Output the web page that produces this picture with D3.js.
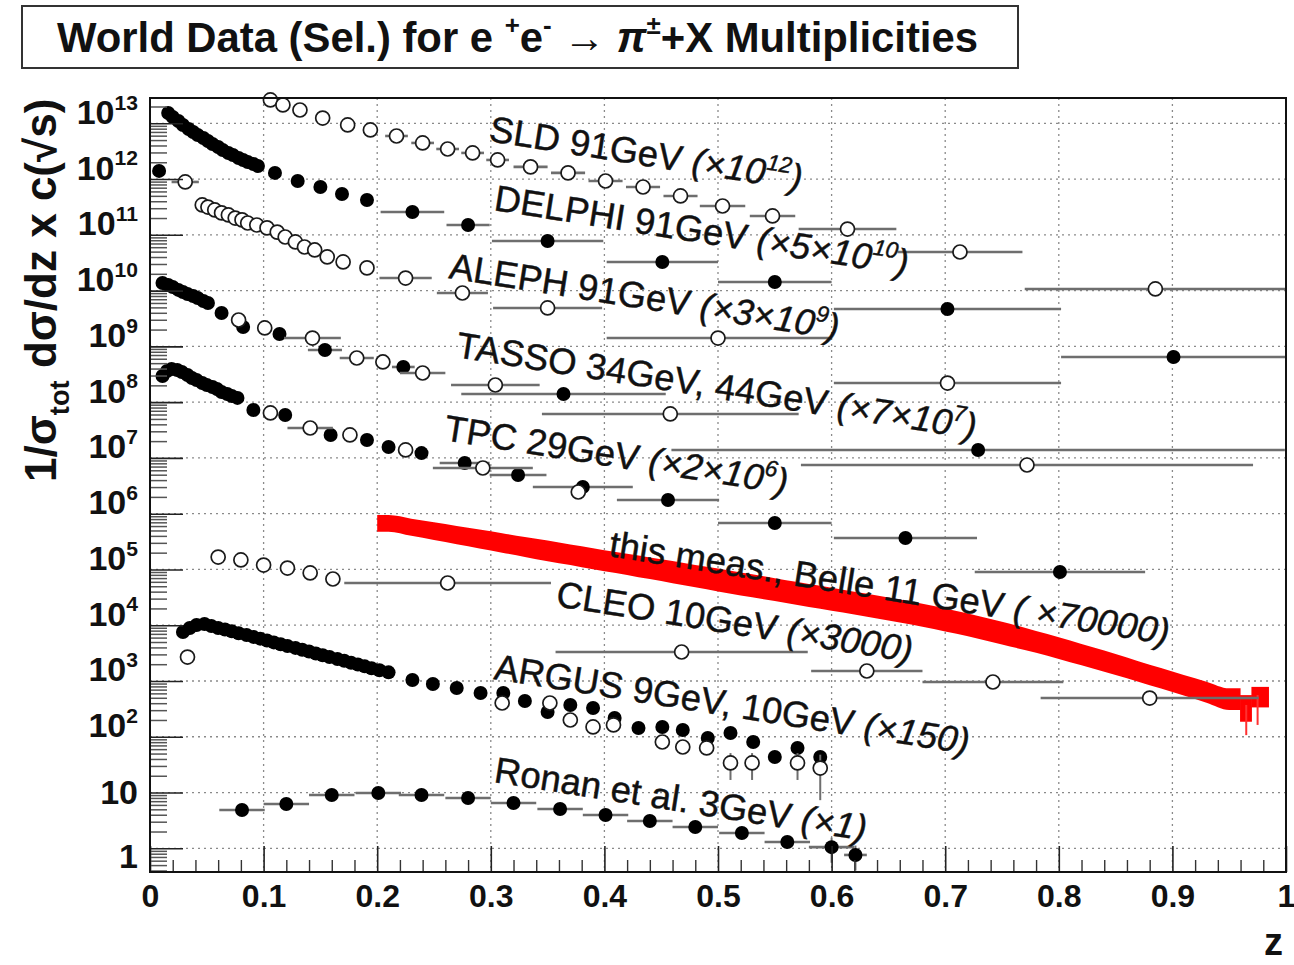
<!DOCTYPE html>
<html>
<head>
<meta charset="utf-8">
<script src="https://cdn.jsdelivr.net/npm/d3@7"></script>
<style>
  html, body { margin: 0; padding: 0; background: #fff; }
  svg { display: block; font-family: "Liberation Sans", Arial, Helvetica, sans-serif; }
</style>
</head>
<body>
<svg id="chart" width="1294" height="965"></svg>
<script>
// ---------------------------------------------------------------
// pi+- multiplicities, 1/sigma dsigma/dz, each set already scaled by
// the factor quoted in its label.
// ---------------------------------------------------------------

// SLD 91 GeV (x1e12), open markers
const sldZ    = [0.106,0.117,0.132,0.152,0.174,0.194,0.217,0.240,0.262,0.284,0.306,0.335,0.368,0.401,0.434,0.467,0.504,0.548,0.614,0.713,0.885];
const sldVal  = [2.62e13,2.13e13,1.73e13,1.24e13,9.33e12,7.59e12,5.92e12,4.44e12,3.46e12,2.94e12,2.20e12,1.65e12,1.29e12,9.23e11,7.21e11,4.98e11,3.29e11,2.18e11,1.27e11,4.92e10,1.07e10];
const sldXerr = [0,0,0,0,0,0,0.01,0.01,0.01,0.01,0.01,0.015,0.015,0.015,0.015,0.015,0.02,0.02,0.043,0.055,0.115];

// DELPHI 91 GeV (x5e10), filled markers
const delphiZ    = [0.016,0.020,0.025,0.029,0.034,0.038,0.042,0.047,0.051,0.055,0.060,0.064,0.069,0.073,0.078,0.082,0.086,0.091,0.095,0.110,0.130,0.150,0.169,0.191,0.231,0.280,0.350,0.451,0.550,0.702,0.901];
const delphiVal  = [1.53e13,1.30e13,1.10e13,9.33e12,7.91e12,6.98e12,6.17e12,5.45e12,4.82e12,4.26e12,3.76e12,3.32e12,2.94e12,2.70e12,2.39e12,2.20e12,2.02e12,1.86e12,1.71e12,1.29e12,9.23e11,7.21e11,5.40e11,4.22e11,2.57e11,1.50e11,7.76e10,3.26e10,1.43e10,4.68e9,6.46e8];
const delphiXerr = [0,0,0,0,0,0,0,0,0,0,0,0,0,0,0,0,0,0,0,0,0,0,0,0,0.028,0.019,0.049,0.049,0.05,0.1,0.099];

// ALEPH 91 GeV (x3e9), open markers, plus the lowest-z filled point
const alephZ    = [0.031,0.046,0.051,0.057,0.063,0.069,0.075,0.081,0.086,0.094,0.103,0.112,0.119,0.128,0.136,0.145,0.156,0.170,0.191,0.225,0.275,0.350,0.500,0.702];
const alephVal  = [8.87e11,3.43e11,3.15e11,2.79e11,2.47e11,2.27e11,2.00e11,1.85e11,1.63e11,1.50e11,1.33e11,1.12e11,9.14e10,7.45e10,6.05e10,5.35e10,4.01e10,3.26e10,2.55e10,1.68e10,9.06e9,4.88e9,1.41e9,2.20e8];
const alephXerr = [0.012,0,0,0,0,0,0,0,0,0,0,0,0,0,0,0,0,0,0,0.023,0.0225,0.048,0.098,0.1];
const alephSoftZ   = [0.008];
const alephSoftVal = [1.40e12];

// TASSO 34 GeV (filled) and 44 GeV (open), x7e7
const tasso34Z    = [0.011,0.016,0.020,0.025,0.029,0.033,0.038,0.042,0.047,0.051,0.063,0.082,0.114,0.154,0.223,0.364,0.729];
const tasso34Val  = [1.37e10,1.26e10,1.16e10,1.03e10,9.44e9,8.69e9,8.00e9,7.38e9,6.52e9,6.00e9,3.97e9,2.23e9,1.67e9,8.61e8,4.27e8,1.40e8,1.39e7];
const tasso34Xerr = [0,0,0,0,0,0,0,0,0,0,0,0,0,0.015,0.01,0.09,0.27];
const tasso44Z    = [0.078,0.101,0.143,0.182,0.205,0.240,0.304,0.458,0.772];
const tasso44Val  = [2.97e9,2.14e9,1.41e9,6.19e8,5.25e8,3.33e8,2.03e8,6.14e7,7.46e6];
const tasso44Xerr = [0,0,0.025,0.015,0,0.02,0.039,0.113,0.199];

// TPC 29 GeV (x2e6), filled and open markers
const tpcZ    = [0.011,0.015,0.019,0.024,0.028,0.033,0.037,0.041,0.046,0.050,0.055,0.059,0.063,0.068,0.072,0.077,0.091,0.119,0.159,0.191,0.210,0.239,0.277,0.324,0.381,0.456,0.550,0.665,0.801];
const tpcVal  = [2.94e8,3.62e8,3.93e8,3.78e8,3.48e8,3.07e8,2.71e8,2.49e8,2.20e8,2.03e8,1.87e8,1.72e8,1.52e8,1.40e8,1.29e8,1.19e8,7.23e7,5.89e7,2.58e7,2.09e7,1.57e7,1.22e7,8.11e6,4.94e6,3.01e6,1.76e6,6.81e5,3.66e5,9.02e4];
const tpcXerr = [0,0,0,0,0,0,0,0,0,0,0,0,0,0,0,0,0,0,0,0,0,0,0.022,0.025,0.044,0.045,0.05,0.063,0.075];
const tpcOpenZ    = [0.106,0.141,0.176,0.225,0.293,0.377];
const tpcOpenVal  = [6.40e7,3.44e7,2.58e7,1.39e7,6.59e6,2.45e6];
const tpcOpenXerr = [0,0.02,0,0,0.044,0];

// Belle 11 GeV, this measurement (x70000): bins with relative uncertainty
const belleEdges  = [0.20,0.22,0.24,0.26,0.28,0.30,0.32,0.34,0.36,0.38,0.40,0.42,0.44,0.46,0.48,0.50,0.52,0.54,0.56,0.58,0.60,0.62,0.64,0.66,0.68,0.70,0.72,0.74,0.76,0.78,0.80,0.82,0.84,0.86,0.88,0.90,0.92,0.94,0.96,0.97,0.985];
const belleVal    = [7.11e5,6.07e5,5.19e5,4.43e5,3.78e5,3.23e5,2.75e5,2.35e5,2.01e5,1.71e5,1.46e5,1.25e5,1.07e5,9.11e4,7.78e4,6.64e4,5.67e4,4.84e4,4.13e4,3.53e4,3.01e4,2.57e4,2.18e4,1.84e4,1.53e4,1.25e4,1.01e4,8.04e3,6.31e3,4.88e3,3.75e3,2.85e3,2.16e3,1.62e3,1.22e3,914,690,521,372,560];
const belleRelErr = [0.33,0.34,0.35,0.36,0.37,0.38,0.39,0.40,0.40,0.41,0.41,0.42,0.42,0.43,0.43,0.44,0.44,0.44,0.44,0.44,0.44,0.44,0.44,0.44,0.44,0.44,0.44,0.44,0.43,0.42,0.42,0.41,0.41,0.40,0.40,0.40,0.41,0.42,0.50,0.40];
const belleTailZ  = [0.965,0.975];
const belleTailLo = [107,163];

// CLEO 10 GeV (x3000), open markers
const cleoZ    = [0.060,0.080,0.100,0.121,0.141,0.161,0.262,0.468,0.631,0.742,0.880];
const cleoVal  = [1.67e5,1.48e5,1.20e5,1.06e5,8.65e4,6.74e4,5.71e4,3.31e3,1.51e3,959,495];
const cleoXerr = [0,0,0,0,0,0,0.091,0.111,0.049,0.062,0.096];

// ARGUS 9 GeV, 10 GeV (x150), filled and open markers
const argusZ   = [0.029,0.035,0.041,0.048,0.054,0.060,0.066,0.072,0.078,0.085,0.091,0.097,0.103,0.109,0.115,0.121,0.128,0.134,0.140,0.146,0.152,0.158,0.165,0.171,0.177,0.183,0.189,0.195,0.202,0.210,0.231,0.249,0.270,0.291,0.311,0.330,0.350,0.370,0.390,0.409,0.430,0.451,0.469,0.491,0.511,0.531,0.550,0.570,0.590];
const argusVal = [7.57e3,8.91e3,1.01e4,1.05e4,9.68e3,8.91e3,8.39e3,7.76e3,7.19e3,6.68e3,6.18e3,5.74e3,5.31e3,4.92e3,4.55e3,4.23e3,3.92e3,3.63e3,3.37e3,3.11e3,2.89e3,2.69e3,2.48e3,2.30e3,2.13e3,1.98e3,1.83e3,1.69e3,1.56e3,1.43e3,1.04e3,883,748,609,609,438,278,372,328,217,144,150,132,95.1,117,80.5,43.4,63.0,43.4];
const argusOpenZ    = [0.033,0.310,0.352,0.370,0.390,0.408,0.451,0.469,0.490,0.511,0.530,0.570,0.590];
const argusOpenVal  = [2.69e3,403,403,200,150,163,80.5,65.6,63.0,33.9,33.9,33.9,27.5];
const argusOpenYerr = [0,0,0,0,0,0,0,0,0,17.1,17.1,17.1,20.2];

// Ronan et al. 3 GeV (x1), filled markers
const ronanZ    = [0.081,0.120,0.160,0.201,0.239,0.280,0.320,0.361,0.401,0.440,0.480,0.521,0.561,0.600,0.621];
const ronanVal  = [4.86,6.23,9.04,9.82,9.04,7.98,6.50,5.07,3.96,3.09,2.41,1.88,1.30,1.05,0.76];
const ronanXerr = [0.02,0.02,0.02,0.02,0.02,0.02,0.02,0.02,0.02,0.02,0.02,0.02,0.02,0.02,0.01];
const ronanYerr = [0,0,0,0,0,0,0,0,0,0,0,0,0,0.5,0.36];

// Text
const labelNames   = ["SLD 91GeV","DELPHI 91GeV","ALEPH 91GeV","TASSO 34GeV, 44GeV","TPC 29GeV","this meas., Belle 11 GeV","CLEO 10GeV","ARGUS 9GeV, 10GeV","Ronan et al. 3GeV"];
const labelFactors = ["×10^12","×5×10^10","×3×10^9","×7×10^7","×2×10^6"," ×70000","×3000","×150","×1"];
const xTicks = [0,0.1,0.2,0.3,0.4,0.5,0.6,0.7,0.8,0.9,1];
const yDecades = d3.range(0, 14).map(k => Math.pow(10, k));

// ---------------------------------------------------------------
// Layout
// ---------------------------------------------------------------
const P = { left: 150, right: 1286, top: 98, bottom: 872 };
const svg = d3.select("#chart");
const x = d3.scaleLinear().domain([0, 1]).range([P.left, P.right]);
const y = d3.scaleLog().domain([0.376, 2.84e13]).range([P.bottom, P.top]);

const labelPos = [[488,141],[493,210],[448,278],[455,357],[443,440],[608,556],[555,606],[493,679],[493,782]];
const labelAngle = 9;
const labelSize = 36.5;

// rich text helper: parts = [{t, sup, sub, it}]
function rich(textSel, parts, size) {
  let shift = 0;
  parts.forEach(p => {
    const target = p.sup ? -0.42 * size : (p.sub ? 0.3 * size : 0);
    const ts = textSel.append("tspan").text(p.t).attr("dy", (target - shift).toFixed(2));
    shift = target;
    if (p.sup || p.sub) ts.attr("font-size", (size * 0.62).toFixed(1));
    if (p.it) ts.attr("font-style", "italic");
  });
}

// ---------------------------------------------------------------
// Grid
// ---------------------------------------------------------------
const grid = svg.append("g").attr("stroke", "#8a8a8a").attr("stroke-width", 1.3).attr("stroke-dasharray", "2,4");
grid.selectAll("line.v").data(xTicks.slice(1, -1)).join("line")
  .attr("x1", d => x(d)).attr("x2", d => x(d)).attr("y1", P.top).attr("y2", P.bottom);
grid.selectAll("line.h").data(yDecades).join("line")
  .attr("x1", P.left).attr("x2", P.right).attr("y1", d => y(d)).attr("y2", d => y(d));

// ---------------------------------------------------------------
// Belle band: smooth uncertainty band through the bin centres,
// the two narrow end bins drawn as boxes
// ---------------------------------------------------------------
const nSmooth = 38;
const bandPts = [];
for (let i = 0; i < nSmooth; i++) {
  const zc = (belleEdges[i] + belleEdges[i + 1]) / 2;
  if (i === 0) bandPts.push({ z: belleEdges[0], v: belleVal[0], e: belleRelErr[0] });
  bandPts.push({ z: zc, v: belleVal[i], e: belleRelErr[i] });
  if (i === nSmooth - 1) bandPts.push({ z: belleEdges[i + 1], v: belleVal[i], e: belleRelErr[i] });
}
svg.append("path").datum(bandPts)
  .attr("fill", "#ff0000")
  .attr("d", d3.area().x(d => x(d.z)).y0(d => y(d.v * (1 - d.e))).y1(d => y(d.v * (1 + d.e))).curve(d3.curveMonotoneX));
for (let i = nSmooth; i < belleVal.length; i++) {
  const x0 = x(belleEdges[i]), x1 = x(belleEdges[i + 1]);
  const yt = y(belleVal[i] * (1 + belleRelErr[i])), yb = y(belleVal[i] * (1 - belleRelErr[i]));
  svg.append("rect").attr("fill", "#ff0000").attr("x", x0 - 0.5).attr("y", yt).attr("width", x1 - x0 + 0.5).attr("height", yb - yt);
}
belleTailZ.forEach((z, i) => {
  const j = d3.bisectRight(belleEdges, z) - 1;
  svg.append("line").attr("stroke", "#ff3030").attr("stroke-width", 2)
    .attr("x1", x(z)).attr("x2", x(z)).attr("y1", y(belleVal[j])).attr("y2", y(belleTailLo[i]));
});

// ---------------------------------------------------------------
// Data points
// ---------------------------------------------------------------
const series = [
  { z: sldZ, v: sldVal, xe: sldXerr, open: true },
  { z: delphiZ, v: delphiVal, xe: delphiXerr, open: false },
  { z: alephZ, v: alephVal, xe: alephXerr, open: true },
  { z: alephSoftZ, v: alephSoftVal, open: false },
  { z: tasso34Z, v: tasso34Val, xe: tasso34Xerr, open: false },
  { z: tasso44Z, v: tasso44Val, xe: tasso44Xerr, open: true },
  { z: tpcZ, v: tpcVal, xe: tpcXerr, open: false },
  { z: tpcOpenZ, v: tpcOpenVal, xe: tpcOpenXerr, open: true },
  { z: cleoZ, v: cleoVal, xe: cleoXerr, open: true },
  { z: argusZ, v: argusVal, open: false },
  { z: argusOpenZ, v: argusOpenVal, ye: argusOpenYerr, open: true },
  { z: ronanZ, v: ronanVal, xe: ronanXerr, ye: ronanYerr, open: false }
];

series.forEach(s => {
  const g = svg.append("g");
  const pts = s.z.map((z, i) => ({ z, v: s.v[i], xe: s.xe ? s.xe[i] : 0, ye: s.ye ? s.ye[i] : 0 }));
  g.selectAll("line.xe").data(pts.filter(d => d.xe > 0)).join("line")
    .attr("stroke", "#6e6e6e").attr("stroke-width", 2.6)
    .attr("x1", d => x(d.z - d.xe)).attr("x2", d => x(Math.min(1, d.z + d.xe)))
    .attr("y1", d => y(d.v)).attr("y2", d => y(d.v));
  g.selectAll("line.ye").data(pts.filter(d => d.ye > 0)).join("line")
    .attr("stroke", "#6e6e6e").attr("stroke-width", 2)
    .attr("x1", d => x(d.z)).attr("x2", d => x(d.z))
    .attr("y1", d => y(d.v + d.ye)).attr("y2", d => y(Math.max(0.4, d.v - d.ye)));
  g.selectAll("circle").data(pts).join("circle")
    .attr("cx", d => x(d.z)).attr("cy", d => y(d.v))
    .attr("r", 7)
    .attr("fill", s.open ? "#fff" : "#000")
    .attr("stroke", s.open ? "#1a1a1a" : "none")
    .attr("stroke-width", 1.7);
});

// ---------------------------------------------------------------
// Axes (ticks point into the frame)
// ---------------------------------------------------------------
const axStyle = g => {
  g.select(".domain").remove();
  g.selectAll("text").attr("fill", "#111").attr("font-weight", "bold");
};

const xMinor = d3.range(0, 50).map(i => i * 0.02).filter(v => Math.abs(v * 10 - Math.round(v * 10)) > 1e-6);
svg.append("g").attr("transform", `translate(0,${P.bottom})`)
  .call(d3.axisBottom(x).tickValues(xMinor).tickSize(-12).tickFormat(""))
  .call(g => { g.select(".domain").remove(); g.selectAll("line").attr("stroke", "#333").attr("stroke-width", 1.4); });
svg.append("g").attr("transform", `translate(0,${P.bottom})`)
  .call(d3.axisBottom(x).tickValues(xTicks).tickSize(-26).tickPadding(12).tickSizeOuter(0).tickFormat(d => d3.format("")(d)))
  .call(axStyle)
  .call(g => {
    g.selectAll("line").attr("stroke", "#222").attr("stroke-width", 1.6);
    g.selectAll("text").attr("font-size", 32).attr("font-family", "Liberation Sans, Arial, sans-serif");
  });

const yMinor = [];
for (let k = -1; k <= 13; k++) for (let m = 2; m <= 9; m++) {
  const v = m * Math.pow(10, k);
  if (v >= 0.38 && v <= 2.8e13) yMinor.push(v);
}
svg.append("g").attr("transform", `translate(${P.left},0)`)
  .call(d3.axisLeft(y).tickValues(yMinor).tickSize(-17).tickFormat(""))
  .call(g => { g.select(".domain").remove(); g.selectAll("line").attr("stroke", "#555").attr("stroke-width", 1.5); });
const yAx = svg.append("g").attr("transform", `translate(${P.left},0)`)
  .call(d3.axisLeft(y).tickValues(yDecades).tickSize(-33).tickPadding(12).tickSizeOuter(0).tickFormat(""))
  .call(axStyle)
  .call(g => g.selectAll("line").attr("stroke", "#222").attr("stroke-width", 1.6));
yAx.selectAll(".tick text").each(function (d) {
  const t = d3.select(this).attr("font-size", 34).attr("font-family", "Liberation Sans, Arial, sans-serif");
  const k = Math.round(Math.log10(d));
  if (k === 0) { t.text("1").attr("dy", "0.55em"); }
  else if (k === 1) { t.text("10"); }
  else { rich(t, [{ t: "10" }, { t: String(k), sup: true }], 34); }
});

// frame
svg.append("rect").attr("x", P.left).attr("y", P.top)
  .attr("width", P.right - P.left).attr("height", P.bottom - P.top)
  .attr("fill", "none").attr("stroke", "#111").attr("stroke-width", 2);

// ---------------------------------------------------------------
// Series labels
// ---------------------------------------------------------------
labelNames.forEach((name, i) => {
  const [lx, ly] = labelPos[i];
  const t = svg.append("text").attr("transform", `translate(${lx},${ly}) rotate(${labelAngle})`)
    .attr("font-size", labelSize).attr("fill", "#111")
    .attr("stroke", "#111").attr("stroke-width", 0.45);
  const f = labelFactors[i];
  const parts = [{ t: name + " " }, { t: "(", it: true }];
  if (f.includes("^")) {
    const [pre, ex] = f.split("^");
    parts.push({ t: pre, it: true }, { t: ex, sup: true, it: true }, { t: ")", it: true });
  } else {
    parts.push({ t: f + ")", it: true });
  }
  rich(t, parts, labelSize);
});

// ---------------------------------------------------------------
// Axis titles and header
// ---------------------------------------------------------------
const yTitle = svg.append("text").attr("transform", "translate(56,482) rotate(-90)")
  .attr("font-size", 44).attr("font-weight", "bold").attr("fill", "#111");
rich(yTitle, [{ t: "1/σ" }, { t: "tot", sub: true }, { t: " dσ/dz x c(" }, { t: "√s" }, { t: ")" }], 44);

svg.append("text").attr("x", 1283).attr("y", 955).attr("text-anchor", "end")
  .attr("font-size", 38).attr("font-weight", "bold").attr("fill", "#111").text("z");

svg.append("rect").attr("x", 22).attr("y", 6).attr("width", 996).attr("height", 62)
  .attr("fill", "#fff").attr("stroke", "#333").attr("stroke-width", 2);
const title = svg.append("text").attr("x", 57).attr("y", 52)
  .attr("font-size", 42).attr("font-weight", "bold").attr("fill", "#111")
  .attr("textLength", 921).attr("lengthAdjust", "spacingAndGlyphs");
rich(title, [
  { t: "World Data (Sel.) for e " }, { t: "+", sup: true }, { t: "e" }, { t: "-", sup: true },
  { t: " → " }, { t: "π", it: true }, { t: "±", sup: true }, { t: "+X Multiplicities" }
], 42);
</script>
</body>
</html>
